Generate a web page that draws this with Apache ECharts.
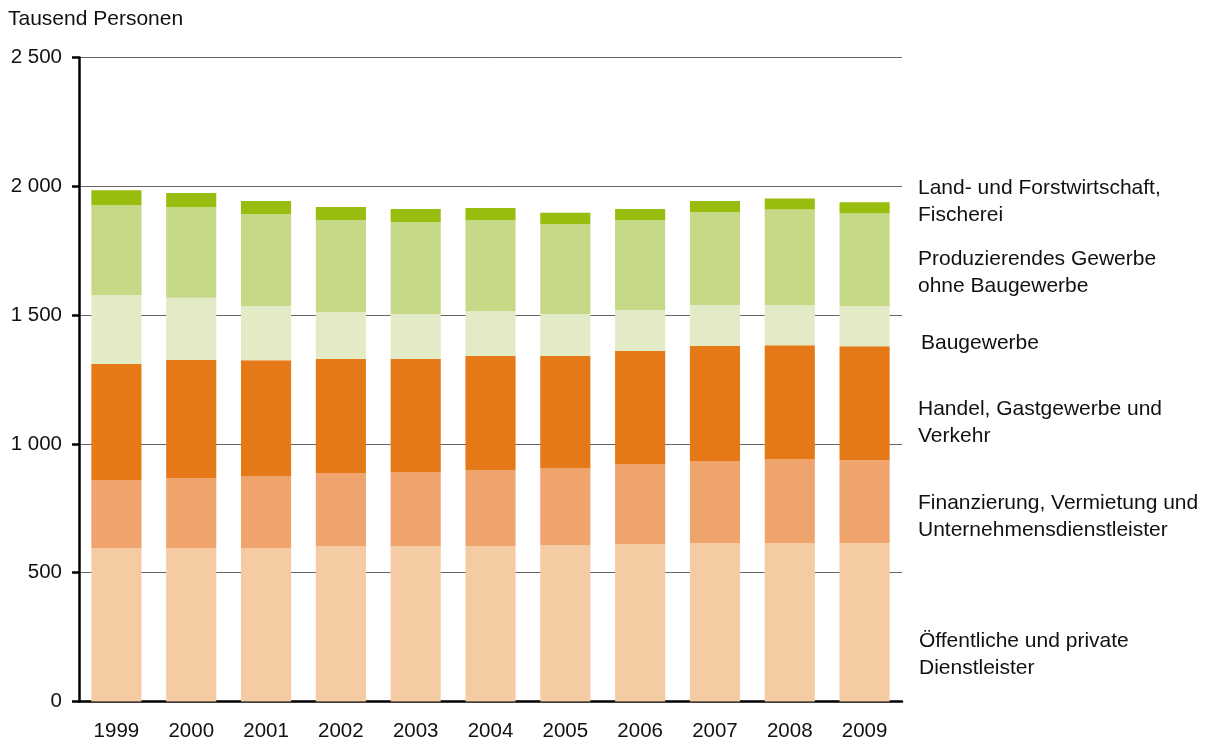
<!DOCTYPE html>
<html>
<head>
<meta charset="utf-8">
<script src="https://cdn.jsdelivr.net/npm/echarts@6/dist/echarts.min.js"></script>
<style>
  html, body { margin: 0; padding: 0; background: #fff; }
  #chart { width: 1213px; height: 745px; }
</style>
</head>
<body>
<div id="chart"></div>
<script>
const YEARS = ['1999', '2000', '2001', '2002', '2003', '2004', '2005', '2006', '2007', '2008', '2009'];

// Tausend Personen, stacked bottom to top
const OEFFENTLICH = [596, 596, 596, 604, 604, 604, 607, 611, 615, 615, 615];
const FINANZ      = [264, 272, 279, 283, 287, 295, 299, 311, 319, 326, 322];
const HANDEL      = [450, 458, 450, 443, 439, 442, 435, 439, 446, 442, 442];
const BAU         = [268, 241, 210, 182, 174, 175, 163, 159, 159, 155, 155];
const PRODUZ      = [349, 353, 357, 357, 357, 353, 350, 349, 361, 372, 361];
const LAND        = [58, 54, 51, 51, 51, 47, 43, 43, 43, 43, 43];

const SERIES_NAMES = [
    'Öffentliche und private\nDienstleister',
    'Finanzierung, Vermietung und\nUnternehmensdienstleister',
    'Handel, Gastgewerbe und\nVerkehr',
    'Baugewerbe',
    'Produzierendes Gewerbe\nohne Baugewerbe',
    'Land- und Forstwirtschaft,\nFischerei'
];
const SERIES_DATA = [OEFFENTLICH, FINANZ, HANDEL, BAU, PRODUZ, LAND];
const COLORS = ['#F5CBA3', '#EFA36D', '#E57817', '#E3EBC6', '#C5D986', '#99BD0E'];

// label positions on the right (pixel centre of the first line)
const LABEL_POS = [[919, 641], [918, 503], [918, 409], [921, 343], [918, 259], [918, 188]];

const FONT = 'Liberation Sans, Arial, sans-serif';

const chart = echarts.init(document.getElementById('chart'));

const series = SERIES_NAMES.map((name, i) => ({
    name: name,
    type: 'bar',
    stack: 'total',
    barCategoryGap: '33%',
    itemStyle: { color: COLORS[i] },
    emphasis: { disabled: true },
    data: SERIES_DATA[i]
}));

const labels = SERIES_NAMES.map((name, i) => ({
    type: 'text',
    left: LABEL_POS[i][0],
    top: LABEL_POS[i][1] - 13.5,
    style: {
        text: name,
        font: '21px ' + FONT,
        fill: '#111',
        lineHeight: 27
    }
}));

chart.setOption({
    animation: false,
    grid: { left: 79, right: 311, top: 57.5, bottom: 43.5, containLabel: false },
    graphic: [
        {
            type: 'text',
            left: 8,
            top: 9,
            style: { text: 'Tausend Personen', font: '21px ' + FONT, fill: '#111' }
        },
        ...labels
    ],
    xAxis: {
        type: 'category',
        data: YEARS,
        axisLine: { lineStyle: { color: '#000', width: 2.5 } },
        axisTick: { show: false },
        axisLabel: { color: '#111', fontSize: 20.5, fontFamily: FONT, margin: 19 }
    },
    yAxis: {
        type: 'value',
        min: 0,
        max: 2500,
        interval: 500,
        axisLine: { show: true, lineStyle: { color: '#000', width: 2.5 } },
        axisTick: { show: true, length: 7, lineStyle: { color: '#000', width: 2.5 } },
        splitLine: { lineStyle: { color: '#666', width: 1 } },
        axisLabel: {
            color: '#111',
            fontSize: 20.5,
            fontFamily: FONT,
            margin: 17,
            formatter: v => String(v).replace(/\B(?=(\d{3})+(?!\d))/g, ' ')
        }
    },
    series: series
});
</script>
</body>
</html>
